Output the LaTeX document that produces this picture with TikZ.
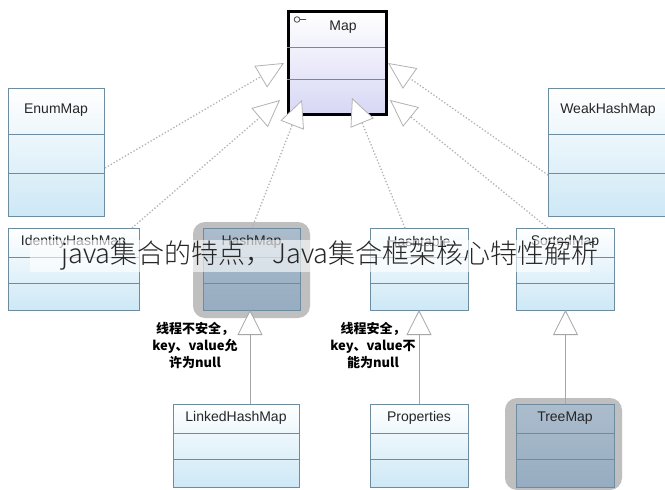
\documentclass[tikz,border=0pt]{standalone}
\usepackage{fontspec}
\setmainfont{Liberation Sans}
\newfontfamily\cjk{Noto Sans CJK SC}
\newfontfamily\cjkl{Noto Sans CJK SC Light}
\usetikzlibrary{arrows.meta,calc}
\definecolor{bl}{RGB}{205,232,246}
\definecolor{bd}{RGB}{110,140,160}
\definecolor{gb}{RGB}{150,172,192}
\tikzset{
 box/.style={draw=bd,line width=1pt,anchor=north west,inner sep=0,top color=white,bottom color=bl},
 gbox/.style={box,top color=gb!80,bottom color=gb},
 mapbox/.style={draw=black,line width=2.5pt,anchor=north west,inner sep=0,top color=white,bottom color={rgb,255:red,215;green,215;blue,245}},
 ttl/.style={font=\fontsize{14}{14}\selectfont,text=black!85},
 impl/.style={draw=black!30,dotted,line width=1.3pt,-{Triangle[open,length=27pt,width=25pt,fill=white,line width=0.8pt]}},
 ext/.style={draw=black!35,line width=1pt,-{Triangle[open,length=25pt,width=25pt,fill=white,line width=0.8pt]}},
 shadow/.style={fill=black!25,rounded corners=12pt,draw=none},
 note/.style={font=\cjk\bfseries\fontsize{13}{17}\selectfont,align=center}
}
\newcommand{\umlbox}[7]{%
 \node[#7,minimum width=#4-#2,minimum height=#5-#3] (#1) at (#2,#3) {};
 \draw[bd,line width=0.8pt] (#2,{#3+(#5-#3)*0.36}) -- (#4,{#3+(#5-#3)*0.36});
 \draw[bd,line width=0.8pt] (#2,{#3+(#5-#3)*0.67}) -- (#4,{#3+(#5-#3)*0.67});
 \node[ttl] (#1t) at ({(#2+#4)/2},{#3+(#5-#3)*0.17}) {#6};}
\begin{document}
\begin{tikzpicture}[x=1pt,y=-1pt]
\useasboundingbox[fill=white] (0,0) rectangle (665,490);
\fill[shadow] (193,222) rectangle (310,318);
\fill[shadow] (505,398) rectangle (622,490);
\umlbox{map}{287}{10}{385}{113}{\hspace{14pt}Map}{mapbox}
\draw[black!70,line width=0.8pt] (297,19.5) circle (2.8) (299.8,19.5) -- (306,19.5);
\umlbox{enum}{8}{88}{104}{216}{EnumMap}{box}
\umlbox{weak}{548}{88}{668}{216}{WeakHashMap}{box}
\umlbox{ident}{8}{228}{139}{310}{IdentityHashMap}{box}
\umlbox{hash}{203}{228}{300}{310}{HashMap}{gbox}
\umlbox{htab}{370}{228}{468}{310}{Hashtable}{box}
\umlbox{sorted}{516}{228}{614}{310}{SortedMap}{box}
\umlbox{linked}{173}{404}{299}{487}{LinkedHashMap}{box}
\umlbox{props}{370}{404}{468}{487}{Properties}{box}
\umlbox{tree}{516}{404}{614}{487}{TreeMap}{gbox}
\coordinate (m1) at (284,63);
\coordinate (m2) at (280,100);
\coordinate (m3) at (302,100);
\coordinate (m4) at (352,98);
\coordinate (m5) at (390,100);
\coordinate (m6) at (388,63);
\draw[impl] (enum.east |- 0,168) -- (m1);
\draw[impl] (132,228) -- (m2);
\draw[impl] (hash.north) -- (m3);
\draw[impl] (405,228) -- (m4);
\draw[impl] (548,228) -- (m5);
\draw[impl] (weak.west |- 0,175) -- (m6);
\draw[ext] (linked.north -| 250,0) -- (250,310);
\draw[ext] (props.north -| 419,0) -- (419,310);
\draw[ext] (tree.north) -- (tree.north |- 0,310);
\node[note] (n1) at (195,345) {线程不安全，\\key、value允\\许为null};
\node[note] (n2) at (373,345) {线程安全，\\key、value不\\能为null};
\fill[white,opacity=0.6] (30,240) rectangle (590,272);
\node[font=\cjkl\fontsize{27}{27}\selectfont,text=black!85] (wm) at (330,256) {java集合的特点，Java集合框架核心特性解析};
\end{tikzpicture}
\end{document}
